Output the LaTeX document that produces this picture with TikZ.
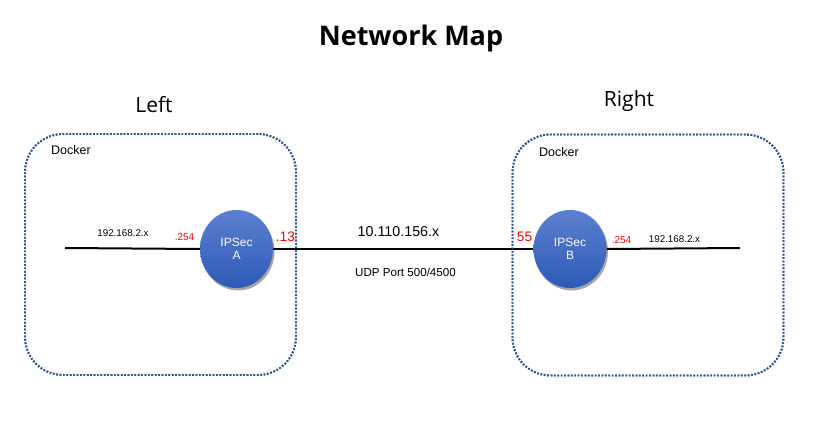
\documentclass[tikz,border=0pt]{standalone}
\usepackage{fontspec}
\setmainfont{Liberation Sans}
\newfontfamily\titlefont{Open Sans}
\usetikzlibrary{shapes.geometric,shadows}
\definecolor{dotblue}{RGB}{47,85,151}
\definecolor{ctop}{RGB}{92,128,208}
\definecolor{cbot}{RGB}{45,90,182}
\definecolor{ipred}{RGB}{255,0,0}
\tikzset{
  dockbox/.style={draw=dotblue, line width=1.9pt, dash pattern=on 1.7pt off 1.7pt,
    rounded corners=38pt, minimum width=271pt, minimum height=241pt, inner sep=0pt},
  ipsec/.style={ellipse, minimum width=73pt, minimum height=78pt, inner sep=0pt,
    top color=ctop, bottom color=cbot, draw=none, text=white, align=center,
    font=\fontsize{12}{14}\selectfont,
    drop shadow={shadow xshift=1.5pt, shadow yshift=-2.5pt, opacity=0.35, fill=black}},
  wire/.style={line width=2pt, black},
  lbl/.style={inner sep=0pt, text=black},
  redlbl/.style={inner sep=0pt, text=ipred},
}
\begin{document}
\begin{tikzpicture}[x=1pt,y=-1pt]
\useasboundingbox (0,0) rectangle (838,426);
\node[lbl, font=\titlefont\bfseries\fontsize{27}{30}\selectfont] (title) at (411,38) {Network Map};
\node[lbl, font=\titlefont\fontsize{21}{24}\selectfont] (left) at (154,105) {Left};
\node[lbl, font=\titlefont\fontsize{21}{24}\selectfont] (right) at (629,101) {Right};

\node[dockbox] (dockL) at (160.5,254.5) {};
\node[dockbox] (dockR) at (648,255) {};
\node[lbl, anchor=west, font=\fontsize{12.5}{14}\selectfont] (dkL) at (51,150) {Docker};
\node[lbl, anchor=west, font=\fontsize{12.5}{14}\selectfont] (dkR) at (539,152) {Docker};

\coordinate (lend) at (65,248);
\coordinate (rend) at (740,248);
\node[ipsec] (A) at (236.5,249) {IPSec\\[-1pt]A};
\node[ipsec] (B) at (570,249) {IPSec\\[-1pt]B};
\draw[wire] (lend) -- (A.west);
\draw[wire] (A.east) -- (B.west);
\draw[wire] (B.east) -- (rend);
% redraw dotted borders over wires
\node[dockbox] at (160.5,254.5) {};
\node[dockbox] at (648,255) {};

\node[lbl, font=\fontsize{9.8}{11}\selectfont] (ipL) at (123,233) {192.168.2.x};
\node[redlbl, font=\fontsize{10}{11}\selectfont] (rL) at (184.5,237.5) {.254};
\node[redlbl, font=\fontsize{13.8}{15}\selectfont] (r13) at (285.5,237) {.13};
\node[lbl, font=\fontsize{14.3}{16}\selectfont] (net) at (398.5,232) {10.110.156.x};
\node[lbl, font=\fontsize{11.6}{13}\selectfont] (udp) at (405.5,272) {UDP Port 500/4500};
\node[redlbl, font=\fontsize{13.8}{15}\selectfont] (r55) at (524.5,237) {55};
\node[redlbl, font=\fontsize{10}{11}\selectfont] (rR) at (621.5,240) {.254};
\node[lbl, font=\fontsize{9.8}{11}\selectfont] (ipR) at (674.5,239) {192.168.2.x};
\end{tikzpicture}
\end{document}
